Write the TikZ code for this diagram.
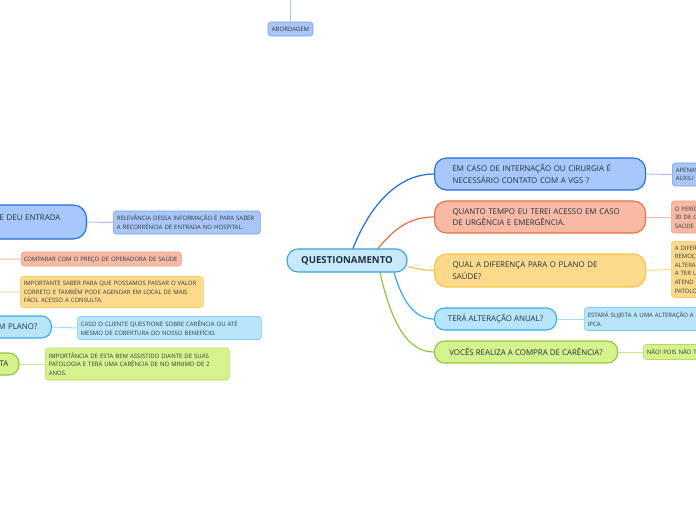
\documentclass[tikz,border=0pt]{standalone}
\usepackage{fontspec}
\setmainfont{Open Sans}
\pgfdeclarelayer{background}
\pgfsetlayers{background,main}
\definecolor{maintext}{HTML}{1D3340}
\definecolor{subtext}{HTML}{2E3A44}
\definecolor{bluefill}{HTML}{A8C8FB}
\definecolor{blueline}{HTML}{1D6CE0}
\definecolor{bluesub}{HTML}{A9C6F7}
\definecolor{bluesubline}{HTML}{6E9FEA}
\definecolor{bluecon}{HTML}{A6C4F2}
\definecolor{salfill}{HTML}{F8BAA5}
\definecolor{salline}{HTML}{F06C43}
\definecolor{salsubline}{HTML}{F29A80}
\definecolor{salcon}{HTML}{F8B7A3}
\definecolor{yelfill}{HTML}{FDD98B}
\definecolor{yelline}{HTML}{F7C443}
\definecolor{yelsubline}{HTML}{F5CB6A}
\definecolor{yelcon}{HTML}{FCD890}
\definecolor{cyanfill}{HTML}{B8E5F9}
\definecolor{cyanline}{HTML}{35AEE6}
\definecolor{cyansubline}{HTML}{7FCCEE}
\definecolor{cyancon}{HTML}{A2DCF5}
\definecolor{grnfill}{HTML}{D6F28C}
\definecolor{grnline}{HTML}{8DC63F}
\definecolor{grnsubline}{HTML}{B2DC5E}
\definecolor{grncon}{HTML}{C8E98A}
\definecolor{cenfill}{HTML}{C8E9FB}
\definecolor{cenline}{HTML}{3AA2DC}
\begin{document}
\begin{tikzpicture}[x=1pt,y=-1pt,
  mainbox/.style={rectangle, rounded corners=12pt, line width=1.1pt, minimum height=32pt,
    font=\fontsize{7.9}{11.5}\selectfont, text=maintext, align=left, inner ysep=2pt},
  subbox/.style={rectangle, rounded corners=3pt, line width=0.6pt,
    font=\fontsize{6}{8.6}\selectfont, text=subtext, align=left, inner xsep=3.5pt, inner ysep=2pt},
  con/.style={line width=1.2pt},
  subcon/.style={line width=1pt}]
\useasboundingbox (0,0) rectangle (696,520);
\clip (0,0) rectangle (696,520);

% top
\node[subbox, fill=bluesub, draw=bluesubline, minimum width=45pt, minimum height=14pt, align=center] (abord) at (290.5,29) {ABORDAGEM};
\coordinate (topend) at (290.5,-5);

% central
\node[rectangle, rounded corners=11pt, line width=1.1pt, fill=cenfill, draw=cenline,
  minimum width=120pt, minimum height=23pt, text=maintext,
  font=\fontsize{9.6}{10}\selectfont\bfseries] (cen) at (347,260.5) {QUESTIONAMENTO};

% right main
\node[mainbox, anchor=west, fill=bluefill, draw=blueline, minimum width=211pt, text width=175pt] (m1) at (434,174) {EM CASO DE INTERNAÇÃO OU CIRURGIA É\\NECESSÁRIO CONTATO COM A VGS ?};
\node[mainbox, anchor=west, fill=salfill, draw=salline, minimum width=211pt, text width=175pt] (m2) at (434,217) {QUANTO TEMPO EU TEREI ACESSO EM CASO\\DE URGÊNCIA E EMERGÊNCIA.};
\node[mainbox, anchor=west, fill=yelfill, draw=yelline, minimum width=211pt, text width=175pt, minimum height=33pt] (m3) at (434,270.5) {QUAL A DIFERENÇA PARA O PLANO DE\\SAÚDE?};
\node[mainbox, anchor=west, fill=cyanfill, draw=cyanline, minimum width=122pt, minimum height=22pt, rounded corners=10pt] (m4) at (434,319) {TERÁ ALTERAÇÃO ANUAL?};
\node[mainbox, anchor=west, fill=grnfill, draw=grnline, minimum width=183pt, minimum height=22pt, rounded corners=10pt] (m5) at (434,352) {VOCÊS REALIZA A COMPRA DE CARÊNCIA?};

% right subs
\node[subbox, anchor=west, fill=bluesub, draw=bluesubline, text width=60pt, minimum height=23pt] (s1) at (672,174.5) {APENAS\\AUXILI};
\node[subbox, anchor=west, fill=salfill, draw=salsubline, text width=60pt, minimum height=32pt] (s2) at (671,217) {O PERÍO\\30 DE C\\SAÚDE};
\node[subbox, anchor=west, fill=yelfill, draw=yelsubline, text width=60pt, minimum height=56pt] (s3) at (671,269.5) {A DIFER\\REMOÇ\\ALTERA\\A TER U\\ATEND\\PATOLO};
\node[subbox, anchor=west, fill=cyanfill, draw=cyansubline, text width=170pt, minimum height=23pt] (s4) at (584,319) {ESTARÁ SUJEITA A UMA ALTERAÇÃO A\\IPCA.};
\node[subbox, anchor=west, fill=grnfill, draw=grnsubline, text width=80pt, minimum height=15pt] (s5) at (643,352) {NÃO! POIS NÃO T};

% left main (cut off)
\node[mainbox, anchor=east, fill=bluefill, draw=blueline, text width=100pt, align=right, inner xsep=26pt, minimum height=34pt, rounded corners=13pt] (l1) at (87,222) {\raisebox{2pt}[0pt][0pt]{E DEU ENTRADA}};
\node[mainbox, anchor=east, fill=cyanfill, draw=cyanline, text width=80pt, align=right, inner xsep=14pt, minimum height=22pt, rounded corners=10pt] (l4) at (52,327) {M PLANO?};
\node[mainbox, anchor=east, fill=grnfill, draw=grnline, text width=60pt, align=right, inner xsep=10.5pt, minimum height=22pt, rounded corners=10pt] (l5) at (19.5,364) {TA};

% left subs
\node[subbox, anchor=west, fill=bluesub, draw=bluesubline, text width=140pt, minimum height=23pt] (l1a) at (113,222.5) {RELEVÂNCIA DESSA INFORMAÇÃO É PARA SABER\\A RECORRÊNCIA DE ENTRADA NO HOSPITAL.};
\node[subbox, anchor=west, fill=salfill, draw=salsubline, text width=155pt, minimum height=14pt, inner xsep=2.5pt] (l2) at (21,259) {COMPARAR COM O PREÇO DE OPERADORA DE SAÚDE};
\node[subbox, anchor=west, fill=yelfill, draw=yelsubline, text width=176pt, minimum height=31pt] (l3) at (20,292) {IMPORTANTE SABER PARA QUE POSSAMOS PASSAR O VALOR\\CORRETO E TAMBÉM PODE AGENDAR EM LOCAL DE MAIS\\FÁCIL ACESSO A CONSULTA.};
\node[subbox, anchor=west, fill=cyanfill, draw=cyansubline, text width=177pt, minimum height=23pt] (l4a) at (77,328) {CASO O CLIENTE QUESTIONE SOBRE CARÊNCIA OU ATÉ\\MESMO DE COBERTURA DO NOSSO BENEFÍCIO.};
\node[subbox, anchor=west, fill=grnfill, draw=grnsubline, text width=177pt, minimum height=32pt] (l5a) at (45,364) {IMPORTÂNCIA DE ESTA BEM ASSISTIDO DIANTE DE SUAS\\PATOLOGIA E TERÁ UMA CARÊNCIA DE NO MINIMO DE 2\\ANOS.};
\coordinate (l2src) at (-30,262);
\coordinate (l3src) at (-30,294);

\begin{pgfonlayer}{background}
\draw[subcon, bluecon] (topend) -- (abord.north);
\draw[con, blueline] ([xshift=6pt]cen.north) .. controls (370,205) and (398,174) .. (m1.west);
\draw[con, salline] ([xshift=31pt]cen.north) .. controls (395,228) and (410,217) .. (m2.west);
\draw[con, yelline] ([yshift=-6pt]cen.east) .. controls (415,268) and (422,270.5) .. (m3.west);
\draw[con, cyanline] ([xshift=47pt]cen.south) .. controls (402,300) and (414,319) .. (m4.west);
\draw[con, grnline] ([xshift=33pt]cen.south) .. controls (392,325) and (408,352) .. (m5.west);
\draw[subcon, bluecon] (m1.east) -- (s1.west);
\draw[subcon, salcon] (m2.east) -- (s2.west);
\draw[subcon, yelcon] (m3.east) -- (s3.west);
\draw[subcon, cyancon] (m4.east) -- (s4.west);
\draw[subcon, grncon] (m5.east) -- (s5.west);
\draw[subcon, bluecon] (l1.east) .. controls (100,222) and (100,222.5) .. (l1a.west);
\draw[subcon, salcon] (l2src) .. controls (0,259) .. (l2.west);
\draw[subcon, yelcon] (l3src) .. controls (0,292) .. (l3.west);
\draw[subcon, cyancon] (l4.east) -- (l4a.west);
\draw[subcon, grncon] (l5.east) -- (l5a.west);
\end{pgfonlayer}
\end{tikzpicture}
\end{document}
